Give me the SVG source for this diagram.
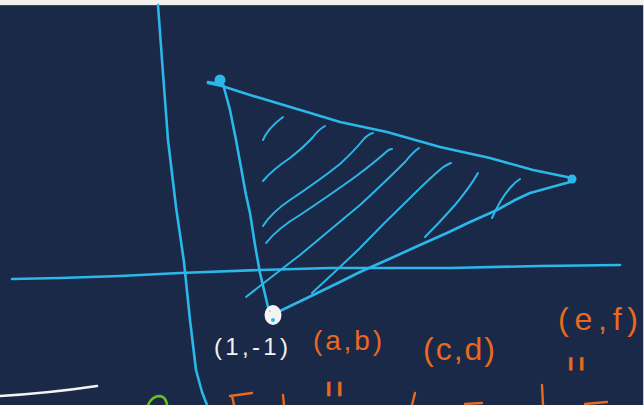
<svg xmlns="http://www.w3.org/2000/svg" width="644" height="405" viewBox="0 0 644 405">
<style>
.bg{fill:#192947}
.cy{fill:none;stroke:#2cb7ea;stroke-width:2.6;stroke-linecap:round;stroke-linejoin:round}
.ht{fill:none;stroke:#2cb7ea;stroke-width:2;stroke-linecap:round;stroke-linejoin:round}
.or{fill:none;stroke:#e8691f;stroke-width:2.4;stroke-linecap:round}
.tw{font-family:"Liberation Sans",Arial,sans-serif;fill:#f2f2f2}
.to{font-family:"Liberation Sans",Arial,sans-serif;fill:#e8691f}
</style>
<rect class="bg" x="0" y="0" width="644" height="405"/>
<rect x="0" y="0" width="644" height="5" fill="#f2f1ee"/>
<rect x="0" y="5" width="644" height="1" fill="#3d4452"/>
<rect x="643" y="5" width="1" height="400" fill="#c9ccd2"/>

<g id="axes">
<path class="cy" stroke-width="2.8" d="M158,5 L162,60 L168,140 L176,207 L184,262 L190,320 L196,370 L202,392 L207,405"/>
<path class="cy" stroke-width="2.8" d="M12,279 L60,278 L120,276 L180,273 L260,270 L330,268 L450,268 L540,266 L620,265"/>
</g>

<g id="triangle">
<path class="cy" d="M208,83 L222,86 L250,95 L307,112 L340,122 L387,132 L440,147 L490,158 L533,170 L572,178"/>
<path class="cy" d="M223,84 L226,95 L230,110 L236,140 L242,173 L246,195 L250,213 L255,245 L260,273 L268,307"/>
<path class="cy" d="M280,311 L307,298 L340,282 L360,272 L387,260 L420,245 L447,233 L470,222 L497,210 L515,200 L530,193 L570,182"/>
</g>

<g id="hatching">
<path class="ht" d="M263,140 Q268,128 283,117"/>
<path class="ht" d="M263,181 Q272,170 290,158 Q305,146 313,137 Q318,130 325,126"/>
<path class="ht" d="M263,226 Q272,212 290,200 Q320,180 340,164 Q355,150 363,140 Q368,134 373,133"/>
<path class="ht" d="M266,243 Q278,228 300,215 Q330,195 355,177 Q375,162 385,153 Q389,149 392,149"/>
<path class="ht" d="M246,297 Q270,278 300,255 Q330,230 360,205 Q385,182 405,162 Q413,152 419,148"/>
<path class="ht" d="M312,293 Q335,272 360,248 Q385,222 410,198 Q430,178 442,168 Q448,164 451,163"/>
<path class="ht" d="M425,237 Q440,222 455,205 Q470,187 478,173"/>
<path class="ht" d="M492,218 Q500,200 510,188 Q515,182 520,179"/>
</g>

<g id="vertex-top">
<circle cx="220" cy="80" r="5.5" fill="#2cb7ea"/>
<path class="cy" d="M208,82 L220,84"/>
</g>
<g id="vertex-right">
<circle cx="572" cy="179" r="4.5" fill="#2cb7ea"/>
</g>
<g id="vertex-bottom">
<ellipse cx="273" cy="315" rx="8.5" ry="10" fill="#f4f4f4"/>
<circle cx="273" cy="320" r="2" fill="#2cb7ea"/>
<circle cx="270" cy="311" r="1" fill="#b9c3d2"/>
</g>

<g id="labels">
<text class="tw" x="214" y="355" font-size="24" textLength="74" lengthAdjust="spacing">(1,-1)</text>
<text class="to" x="313" y="350" font-size="28" textLength="69" lengthAdjust="spacing">(a,b)</text>
<text class="to" x="423" y="360" font-size="32" textLength="72" lengthAdjust="spacing">(c,d)</text>
<text class="to" x="558" y="330" font-size="32" textLength="80" lengthAdjust="spacing">(e,f)</text>
<text class="to" font-size="30" text-anchor="middle" x="0" y="10" transform="translate(576,364) rotate(90) scale(0.9,1.5)">=</text>
<text class="to" font-size="30" text-anchor="middle" x="0" y="10" transform="translate(334,389) rotate(90) scale(1,1.5)">=</text>
</g>

<g id="bottom-fragments">
<path fill="none" stroke="#f4f4f4" stroke-width="2.6" stroke-linecap="round" d="M0,396 Q50,393 97,386"/>
<path fill="none" stroke="#6cc11c" stroke-width="2.6" stroke-linecap="round" d="M148,405 Q152,396 160,396 Q166,397 167,405"/>
<path class="or" d="M230,396 L252,393 M232,396 L234,405"/>
<path class="or" d="M283,395 L284,405"/>
<path class="or" d="M415,393 L412,405"/>
<path class="or" d="M465,404 L482,403"/>
<path class="or" d="M542,385 L543,405"/>
<path class="or" d="M585,404 L607,402"/>
</g>
</svg>
